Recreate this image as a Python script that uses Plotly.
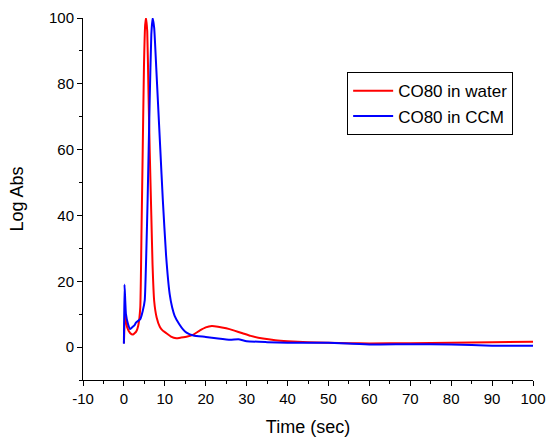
import plotly.graph_objects as go

water_t = [0, 0.3, 0.8, 1.5, 2.2, 3.0, 3.5, 4.0, 4.3, 4.6, 4.9, 5.2, 5.4, 5.7, 6.0, 6.3, 6.7, 7.0, 7.4, 8.0, 8.8, 9.5, 10.4, 11.5, 12.8, 14, 15.5, 17, 18.5, 20, 21.5, 23, 25, 27, 29, 31, 34, 37, 40, 45, 50, 55, 60, 70, 80, 90, 100]
water_y = [1.2, 10, 6, 4.3, 3.8, 4.7, 6.5, 12, 35, 60, 85, 98, 100, 96, 78, 60, 40, 25, 14, 9, 6.1, 5, 4.2, 3.2, 2.7, 2.9, 3.2, 3.8, 5.0, 6.0, 6.4, 6.2, 5.7, 5.0, 4.2, 3.4, 2.6, 2.1, 1.8, 1.5, 1.3, 1.2, 1.1, 1.2, 1.3, 1.5, 1.6]

ccm_t = [0, 0.15, 0.5, 1.0, 1.5, 2.0, 2.5, 3.0, 4.0, 4.6, 5.1, 5.5, 5.8, 6.3, 6.7, 7.0, 7.4, 7.9, 8.3, 8.9, 9.5, 10.3, 11.2, 11.8, 12.4, 13.5, 14.5, 15.3, 17, 20, 23, 26, 28, 30, 35, 40, 50, 60, 70, 80, 90, 100]
ccm_y = [1, 19, 10, 7, 5.5, 6, 6.5, 7.5, 8.5, 11, 14.3, 30, 45, 75, 95, 100, 97, 85, 75, 60, 45, 28, 16, 12, 9.5, 7, 5.3, 4.4, 3.5, 3.1, 2.6, 2.2, 2.4, 1.8, 1.5, 1.3, 1.3, 0.8, 0.9, 0.8, 0.4, 0.4]

x_ticks = [-10, 0, 10, 20, 30, 40, 50, 60, 70, 80, 90, 100]
x_labels = ["-10", "0", "10", "20", "30", "40", "50", "60", "70", "80", "90", "100"]
y_ticks = [0, 20, 40, 60, 80, 100]

fig = go.Figure()
fig.add_trace(go.Scatter(x=water_t, y=water_y, mode="lines", name="CO80 in water",
                         line=dict(color="#FF0000", width=2, shape="spline", smoothing=0.4)))
fig.add_trace(go.Scatter(x=ccm_t, y=ccm_y, mode="lines", name="CO80 in CCM",
                         line=dict(color="#0000FF", width=2, shape="spline", smoothing=0.4)))

font_family = "Liberation Sans, Arial, sans-serif"
fig.update_layout(
    width=547, height=439,
    margin=dict(l=83, r=14, t=18, b=59, autoexpand=False),
    plot_bgcolor="white", paper_bgcolor="white",
    font=dict(family=font_family, size=15, color="black"),
    showlegend=True,
    legend=dict(x=0.587, y=0.85, xanchor="left", yanchor="top",
                bordercolor="black", borderwidth=1, bgcolor="white",
                font=dict(size=17), tracegroupgap=0, itemwidth=40),
)
fig.update_xaxes(range=[-10, 100], tickvals=x_ticks, ticktext=x_labels, ticks="outside", ticklen=5,
                 tickwidth=1, tickcolor="black", showline=True, linecolor="black",
                 linewidth=1, showgrid=False, zeroline=False, automargin=False,
                 minor=dict(dtick=5, tick0=0, ticks="outside", ticklen=3, tickcolor="black", showgrid=False),
                 title=dict(text="Time (sec)", font=dict(size=18), standoff=14))
fig.update_yaxes(range=[-10, 100], tickvals=y_ticks, ticks="outside", ticklen=5,
                 tickwidth=1, tickcolor="black", showline=True, linecolor="black",
                 linewidth=1, showgrid=False, zeroline=False, automargin=False,
                 minor=dict(dtick=10, tick0=0, ticks="outside", ticklen=3, tickcolor="black", showgrid=False),
                 title=dict(text="Log Abs", font=dict(size=18), standoff=20))

fig.write_html("out.html")
